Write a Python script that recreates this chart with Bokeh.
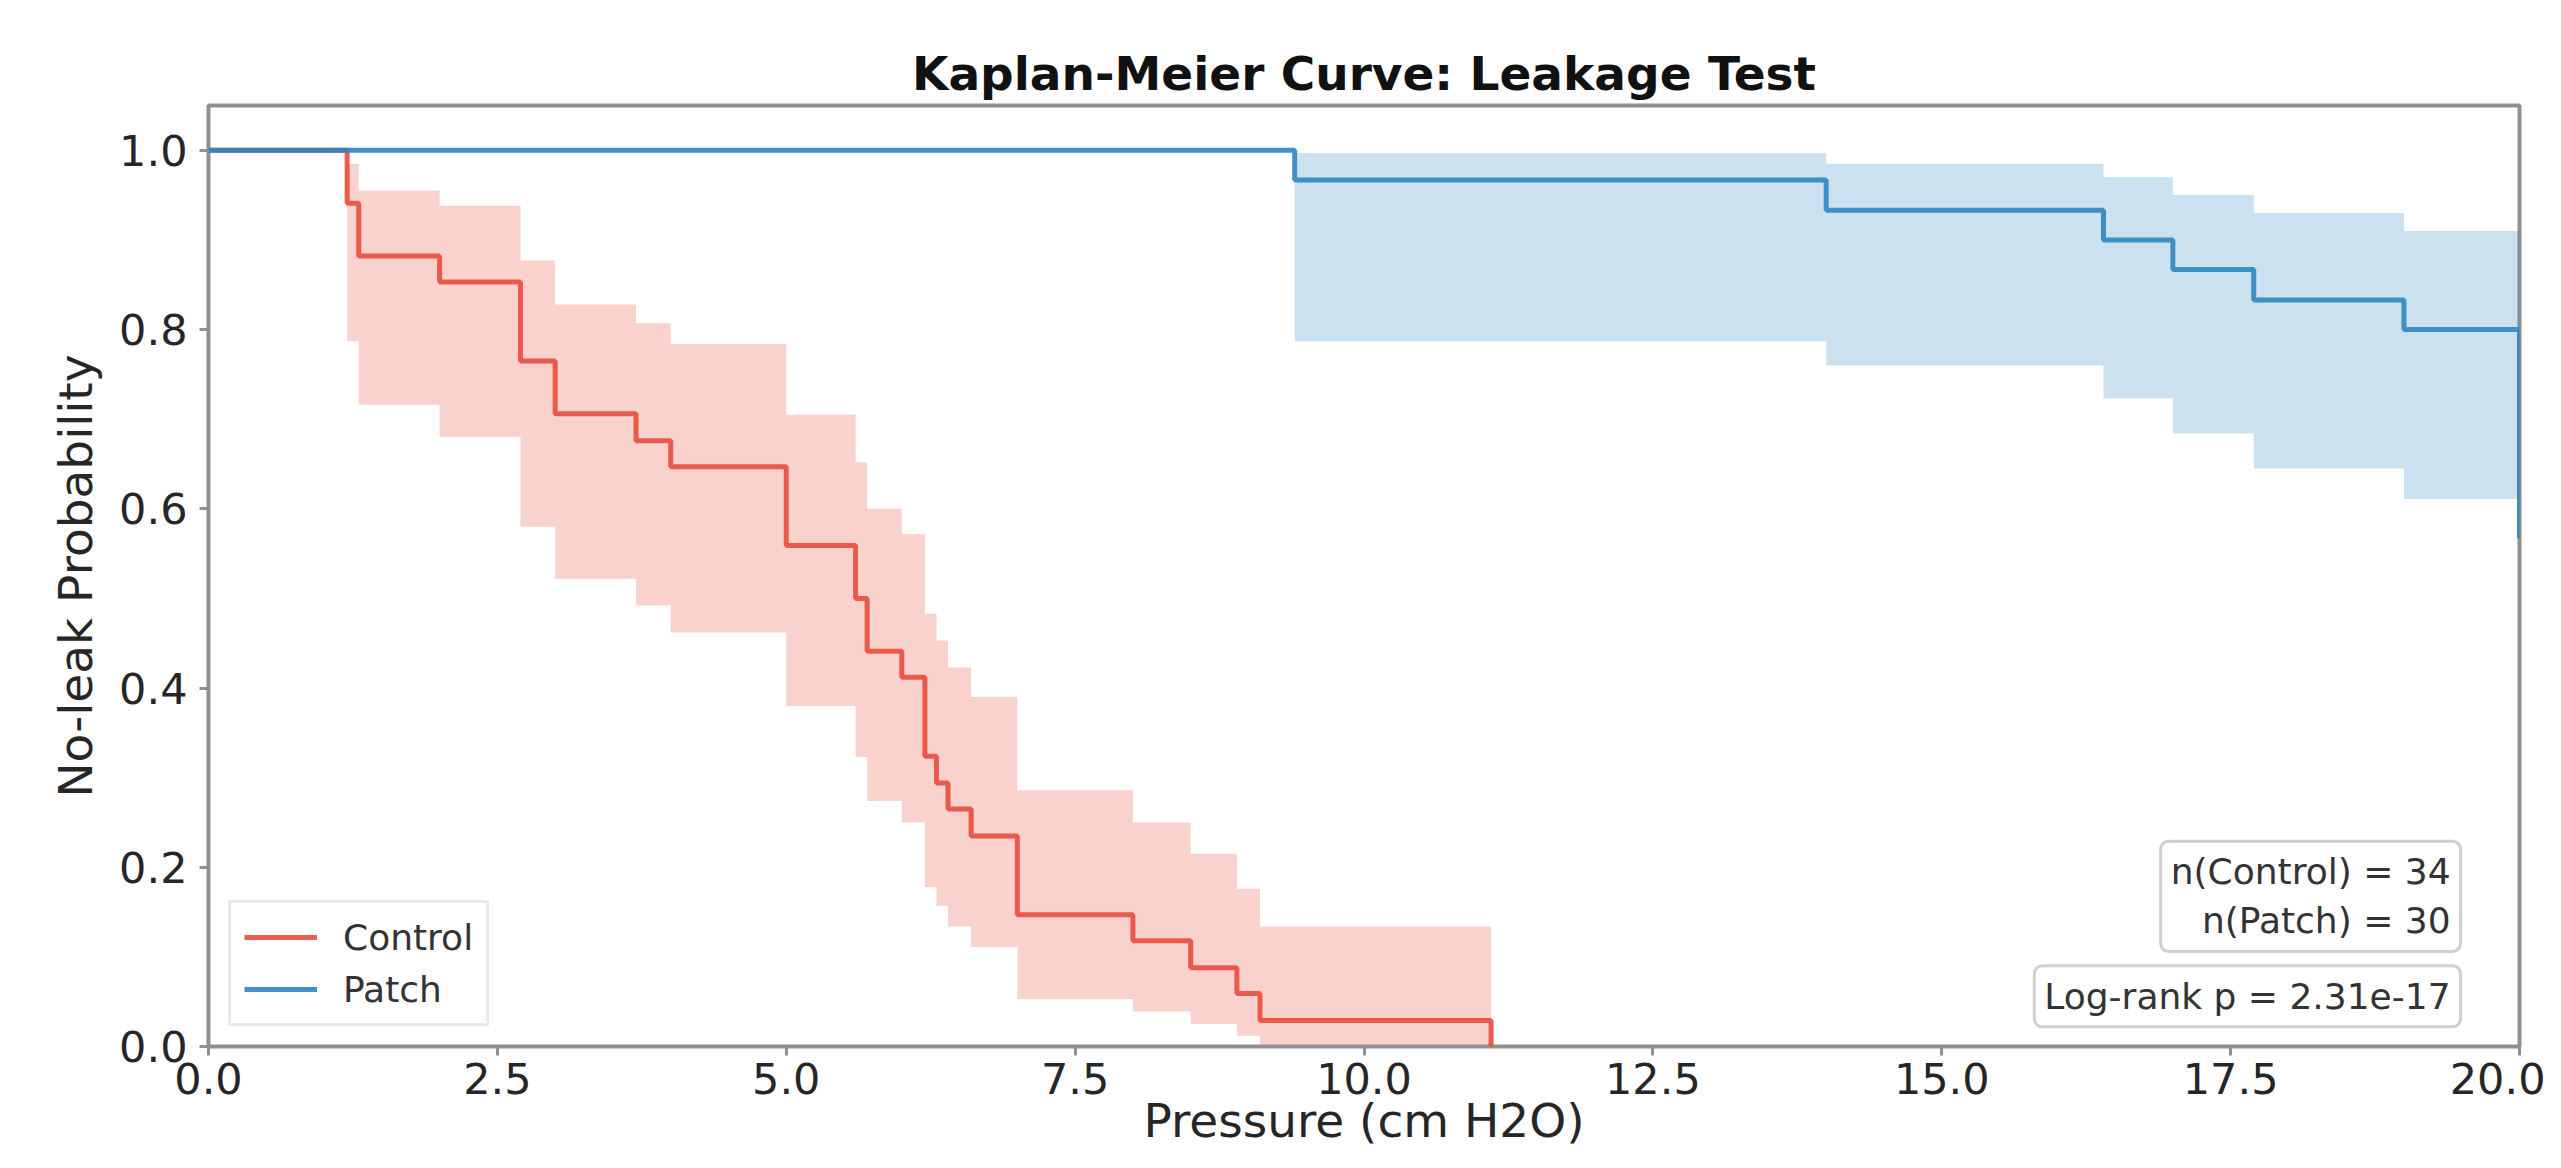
from bokeh.plotting import figure
from bokeh.models import (ColumnDataSource, Legend, LegendItem, Label,
                          FixedTicker, NumeralTickFormatter, Range1d)
from bokeh.embed import file_html
from bokeh.resources import INLINE

# ---------------- data ----------------
control_time = [0.0, 1.2, 1.3, 2.0, 2.7, 3.0, 3.7, 4.0, 5.0, 5.6, 5.7,
                6.0, 6.2, 6.3, 6.4, 6.6, 7.0, 8.0, 8.5, 8.9, 9.1, 11.1]
control_surv = [1.0, 0.941, 0.882, 0.853, 0.765, 0.706, 0.676, 0.647, 0.559,
                0.500, 0.441, 0.412, 0.324, 0.294, 0.265, 0.235, 0.147,
                0.118, 0.088, 0.059, 0.029, 0.0]
control_upper = [1.0, 0.985, 0.955, 0.938, 0.877, 0.828, 0.807, 0.784, 0.705,
                 0.652, 0.600, 0.572, 0.483, 0.453, 0.423, 0.390, 0.286,
                 0.250, 0.215, 0.176, 0.134, 0.0]
control_lower = [1.0, 0.787, 0.716, 0.680, 0.580, 0.522, 0.492, 0.462, 0.380,
                 0.323, 0.274, 0.250, 0.178, 0.157, 0.134, 0.111, 0.053,
                 0.039, 0.025, 0.012, 0.002, 0.0]

patch_time = [0.0, 9.4, 14.0, 16.4, 17.0, 17.7, 19.0, 20.0]
patch_surv = [1.0, 0.967, 0.933, 0.900, 0.867, 0.833, 0.800, 0.567]
patch_upper = [1.0, 0.997, 0.985, 0.970, 0.950, 0.930, 0.910, 0.567]
patch_lower = [1.0, 0.787, 0.760, 0.723, 0.684, 0.645, 0.611, 0.567]

x_ticks = [0.0, 2.5, 5.0, 7.5, 10.0, 12.5, 15.0, 17.5, 20.0]
y_ticks = [0.0, 0.2, 0.4, 0.6, 0.8, 1.0]

n_control = 34
n_patch = 30
logrank_p = "2.31e-17"

# ---------------- styling ----------------
FONT = "DejaVu Sans"
RED = "#e74c3c"
BLUE = "#2e86c1"
SPINE = "#8f8f8f"
TXT = "#262626"

p = figure(width=2545, height=1152, output_backend="svg", toolbar_location=None,
           x_range=Range1d(0, 20), y_range=Range1d(0, 1.05),
           min_border_left=208, min_border_right=26,
           min_border_top=105, min_border_bottom=106)

p.background_fill_color = "white"
p.border_fill_color = "white"
p.xgrid.visible = False
p.ygrid.visible = False
p.outline_line_color = SPINE
p.outline_line_width = 4

# title
p.title.text = "Kaplan-Meier Curve: Leakage Test"
p.title.text_font = FONT
p.title.text_font_size = "47px"
p.title.text_font_style = "bold"
p.title.text_color = "#111111"
p.title.align = "center"
p.title.standoff = 9

# axes
for ax in (p.xaxis[0], p.yaxis[0]):
    ax.axis_line_color = None
    ax.major_tick_line_color = SPINE
    ax.major_tick_line_width = 3
    ax.major_tick_in = 0
    ax.major_tick_out = 9
    ax.minor_tick_line_color = None
    ax.major_label_text_font = FONT
    ax.major_label_text_font_size = "43px"
    ax.major_label_text_color = TXT
    ax.axis_label_text_font = FONT
    ax.axis_label_text_font_size = "47px"
    ax.axis_label_text_font_style = "normal"
    ax.axis_label_text_color = TXT

p.xaxis.axis_label = "Pressure (cm H2O)"
p.yaxis.axis_label = "No-leak Probability"
p.xaxis.ticker = FixedTicker(ticks=x_ticks)
p.yaxis.ticker = FixedTicker(ticks=y_ticks)
p.xaxis.formatter = NumeralTickFormatter(format="0.0")
p.yaxis.formatter = NumeralTickFormatter(format="0.0")
p.xaxis.major_label_standoff = 7
p.xaxis.axis_label_standoff = -4
p.yaxis.major_label_standoff = 12
p.yaxis.axis_label_standoff = 13

# data sources
src_c = ColumnDataSource(dict(t=control_time, s=control_surv,
                              lo=control_lower, hi=control_upper))
src_p = ColumnDataSource(dict(t=patch_time, s=patch_surv,
                              lo=patch_lower, hi=patch_upper))

# confidence bands
p.varea_step(x="t", y1="lo", y2="hi", step_mode="after", source=src_c,
             fill_color=RED, fill_alpha=0.25)
p.varea_step(x="t", y1="lo", y2="hi", step_mode="after", source=src_p,
             fill_color=BLUE, fill_alpha=0.25)

# survival curves
r_c = p.step(x="t", y="s", mode="after", source=src_c,
             line_color=RED, line_width=5, line_alpha=0.9)
r_p = p.step(x="t", y="s", mode="after", source=src_p,
             line_color=BLUE, line_width=5, line_alpha=0.9)

# legend
legend = Legend(items=[LegendItem(label="Control", renderers=[r_c]),
                       LegendItem(label="Patch", renderers=[r_p])],
                location="bottom_left", margin=20, padding=13, spacing=10,
                glyph_width=73, glyph_height=42, label_standoff=26,
                label_text_font=FONT, label_text_font_size="36px",
                label_text_color="#333333",
                border_line_color="#d5d5d5", border_line_width=3,
                background_fill_color="white", background_fill_alpha=0.85)
p.add_layout(legend)

# annotation boxes
n_label = Label(x=19.49, y=0.106,
                text=f"n(Control) = {n_control}\nn(Patch) = {n_patch}",
                text_align="right", text_baseline="bottom",
                text_font=FONT, text_font_size="36px", text_color="#333333",
                padding=10, border_radius=8,
                background_fill_color="white", background_fill_alpha=0.85,
                border_line_color="#cfcfcf", border_line_width=3)
p_label = Label(x=19.49, y=0.022,
                text=f"Log-rank p = {logrank_p}",
                text_align="right", text_baseline="bottom",
                text_font=FONT, text_font_size="36px", text_color="#333333",
                padding=10, border_radius=8,
                background_fill_color="white", background_fill_alpha=0.85,
                border_line_color="#cfcfcf", border_line_width=3)
p.add_layout(n_label)
p.add_layout(p_label)

open("out.html", "w").write(file_html(p, INLINE))
